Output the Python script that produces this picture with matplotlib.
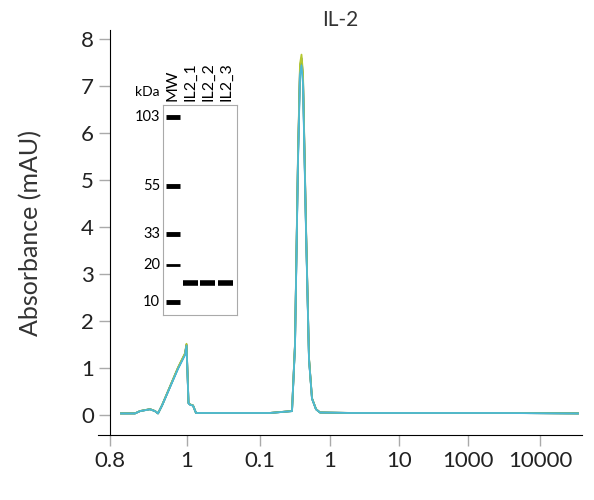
import matplotlib
matplotlib.use("Agg")
import matplotlib.pyplot as plt
import numpy as np

plt.rcParams["font.family"] = ["Lato", "DejaVu Sans"]

# x in chart position units (tick positions)
tick_pos = [110, 187, 260, 330, 399, 468, 540]
tick_labels = ["0.8", "1", "0.1", "1", "10", "1000", "10000"]

trace_x = [121, 135, 140, 145, 150, 155, 158, 162, 170, 178, 185, 186.5, 187.5, 188.5,
           190, 193, 196, 230, 270, 292, 295, 298, 300, 301.5, 303, 306, 309, 312,
           316, 320, 350, 400, 450, 500, 578]
trace_y = [0.03, 0.03, 0.08, 0.1, 0.12, 0.08, 0.03, 0.2, 0.6, 1.0, 1.3, 1.5, 0.9, 0.25,
           0.22, 0.2, 0.04, 0.04, 0.04, 0.08, 1.5, 5.5, 7.4, 7.6, 7.2, 4.0, 1.2, 0.35,
           0.12, 0.05, 0.04, 0.04, 0.04, 0.04, 0.03]
# small offsets between replicate traces
trace_scale = [1.0, 0.99, 1.01, 0.98]
trace_colors = ["#1d3f6e", "#2aa198", "#b5c830", "#4ab8d8"]

# gel inset
mw_labels = ["103", "55", "33", "20", "10"]
mw_band_y = [117, 186, 234, 265, 302]
lane_labels = ["MW", "IL2_1", "IL2_2", "IL2_3"]
sample_band_y = 283

fig = plt.figure(figsize=(5.94, 5.0), dpi=100)
W, H = 594, 500
ax = fig.add_axes([98 / W, 1 - 435 / H, (582 - 98) / W, (435 - 30) / H])

for s, c in zip(trace_scale, trace_colors):
    ax.plot(trace_x, np.array(trace_y) * s, color=c, lw=1.3)

ax.set_xlim(98, 582)
ax.set_ylim(-0.43, 8.2)
ax.spines["left"].set_position(("data", 110))
ax.spines["top"].set_visible(False)
ax.spines["right"].set_visible(False)
ax.spines["left"].set_bounds(-0.43, 8.2)
ax.set_xticks(tick_pos)
ax.set_xticklabels(tick_labels)
ax.set_yticks(range(0, 9))
ax.tick_params(axis="both", labelsize=16, length=8, width=1, colors="#222222")
ax.tick_params(axis="both", color="#aaaaaa")
ax.set_ylabel("Absorbance (mAU)", fontsize=18, color="#333333")
ax.yaxis.set_label_coords(-0.115, 0.5)
ax.set_title("IL-2", fontsize=15, color="#333333", pad=2)

# gel inset
gx0, gx1, gy0, gy1 = 163, 237, 105, 315
gax = fig.add_axes([gx0 / W, 1 - gy1 / H, (gx1 - gx0) / W, (gy1 - gy0) / H])
gax.set_xlim(gx0, gx1)
gax.set_ylim(gy1, gy0)
gax.set_xticks([])
gax.set_yticks([])
for sp in gax.spines.values():
    sp.set_color("#aaaaaa")
    sp.set_linewidth(0.8)
for lab, y in zip(mw_labels, mw_band_y):
    lw = 2.0 if lab == "20" else 3.5
    gax.plot([166, 180], [y, y], color="black", lw=lw, solid_capstyle="butt")
    fig.text(160 / W, 1 - y / H, lab, ha="right", va="center", fontsize=10.5)
for x0 in [183, 200, 218]:
    gax.plot([x0, x0 + 15], [sample_band_y] * 2, color="black", lw=4, solid_capstyle="butt")
fig.text(160 / W, 1 - 92 / H, "kDa", ha="right", va="center", fontsize=10)
for lab, x in zip(lane_labels, [172, 190, 208, 226]):
    fig.text(x / W, 1 - 101 / H, lab, rotation=90, ha="center", va="bottom", fontsize=11.5)

fig.savefig("out.png", dpi=100)
